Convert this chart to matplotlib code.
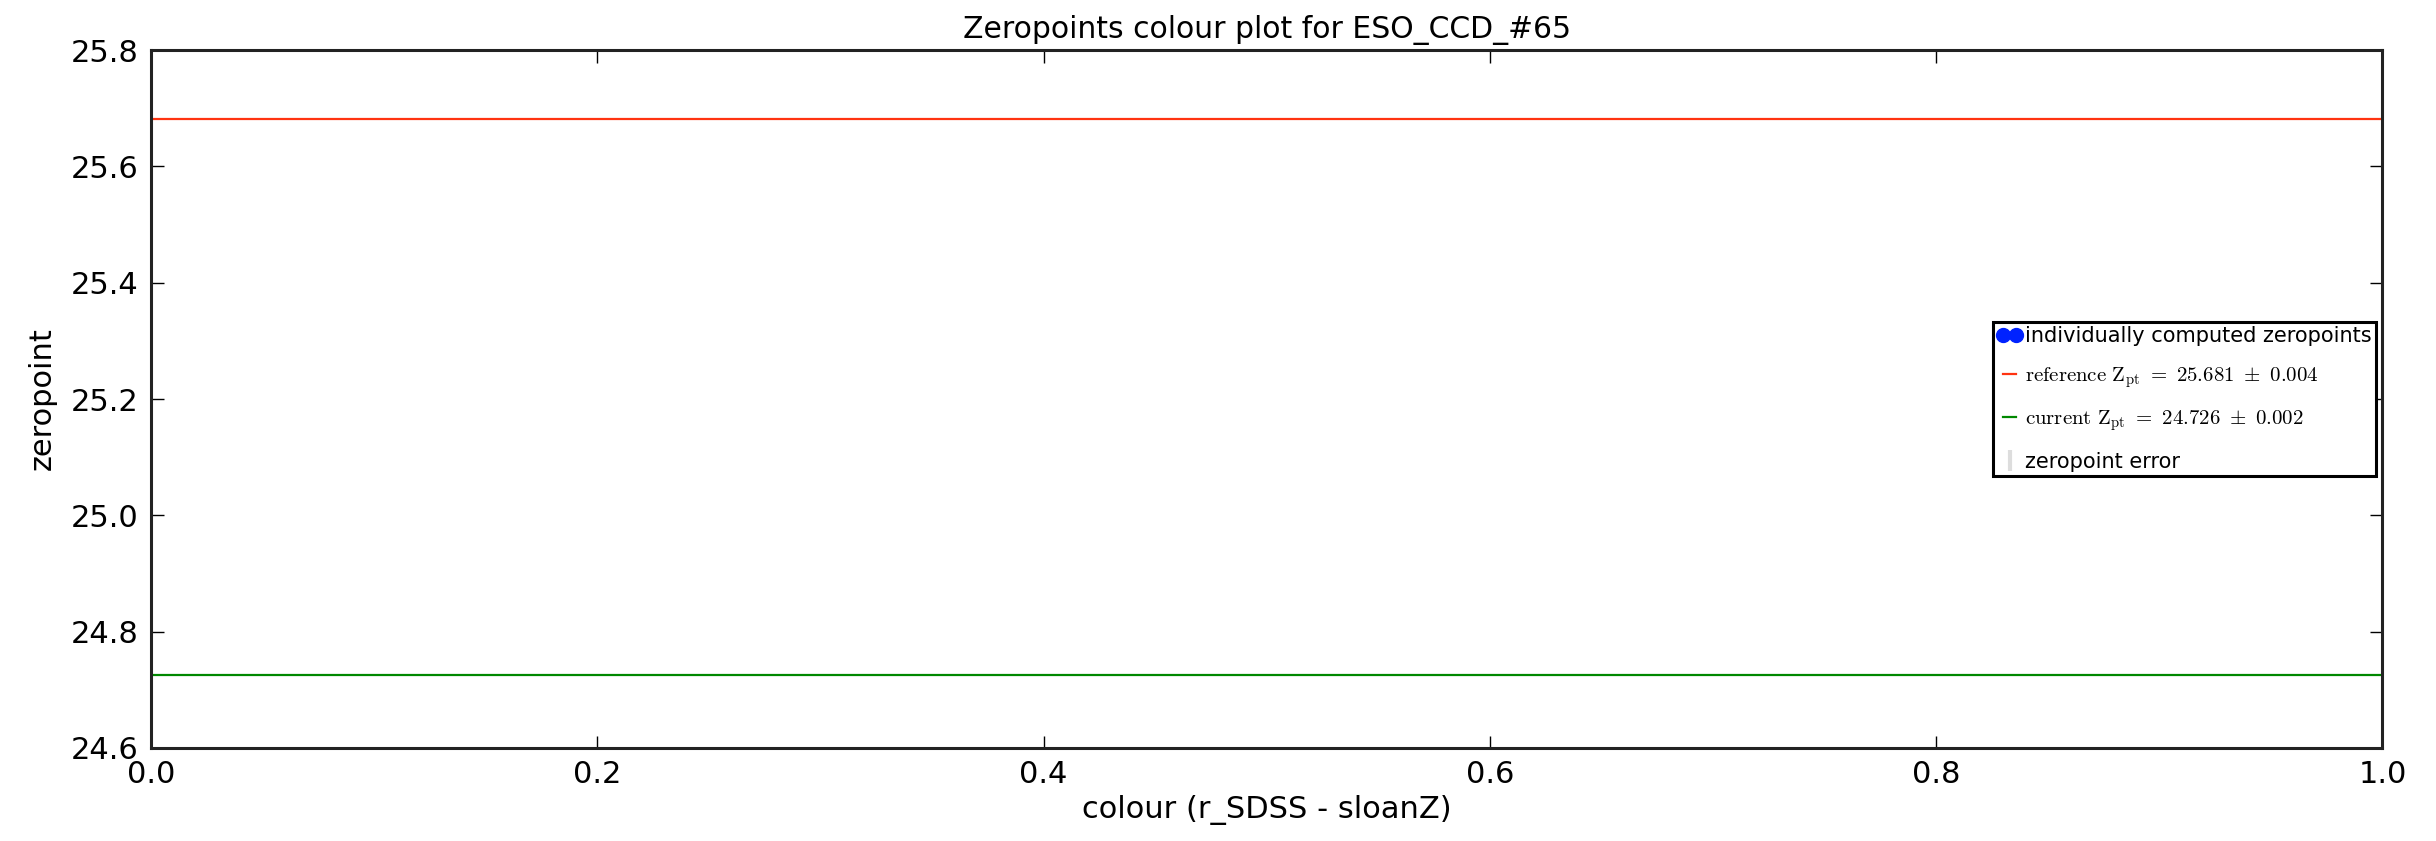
import matplotlib
matplotlib.use("Agg")
import matplotlib.pyplot as plt
from matplotlib.container import ErrorbarContainer
from matplotlib.legend_handler import HandlerErrorbar

# ---- data ----
ccd_name = "ESO_CCD_#65"
colour_values = []          # individually computed zeropoints (none visible)
zeropoint_values = []
zeropoint_errors = []
line_x = [0.0, 1.0]
ref_zpt, ref_err = 25.681, 0.004
cur_zpt, cur_err = 24.726, 0.002
xticks = [0.0, 0.2, 0.4, 0.6, 0.8, 1.0]
yticks = [24.6, 24.8, 25.0, 25.2, 25.4, 25.6, 25.8]

plt.rcParams['font.family'] = ['DejaVu Sans']
plt.rcParams['mathtext.fontset'] = 'cm'

fig = plt.figure(figsize=(24.36, 8.41), dpi=100)
ax = fig.add_axes([0.062, 0.1106, 0.916, 0.8299])

ax.plot(colour_values, zeropoint_values, 'o', color='#0022ff', markersize=10,
        markeredgecolor='#0022ff', label='individually computed zeropoints')
ax.plot(line_x, [ref_zpt] * len(line_x), color='#ff3311', lw=1.6,
        label=r'$\mathrm{reference\ Z_{pt}\ =\ %.3f\ \pm\ %.3f}$' % (ref_zpt, ref_err))
ax.plot(line_x, [cur_zpt] * len(line_x), color='#008800', lw=1.6,
        label=r'$\mathrm{current\ Z_{pt}\ =\ %.3f\ \pm\ %.3f}$' % (cur_zpt, cur_err))
ax.errorbar(colour_values, zeropoint_values, yerr=zeropoint_errors, fmt='none',
            ecolor='#dddddd', elinewidth=3, label='zeropoint error')

ax.set_xlim(0.0, 1.0)
ax.set_ylim(24.6, 25.8)
ax.set_xticks(xticks)
ax.set_yticks(yticks)
ax.set_xticklabels(['%.1f' % v for v in xticks])
ax.set_yticklabels(['%.1f' % v for v in yticks])
ax.tick_params(direction='in', top=True, right=True, length=9, width=1,
               labelsize=22, pad=9, colors='black')
for s in ax.spines.values():
    s.set_linewidth(2.2)
    s.set_color('#222222')

ax.set_xlabel('colour (r_SDSS - sloanZ)', fontsize=22, labelpad=4)
ax.set_ylabel('zeropoint', fontsize=22, labelpad=10)
ax.set_title('Zeropoints colour plot for %s' % ccd_name, fontsize=21.5, pad=9)

leg = ax.legend(loc='center right', fontsize=15, numpoints=2, handlelength=1.2,
                handletextpad=0.15, borderpad=0.2, borderaxespad=0.3,
                labelspacing=0.9, fancybox=False, framealpha=1,
                handler_map={ErrorbarContainer: HandlerErrorbar(numpoints=1)})
leg.get_frame().set_edgecolor('black')
leg.get_frame().set_linewidth(2.2)

fig.savefig('out.png', dpi=100)
